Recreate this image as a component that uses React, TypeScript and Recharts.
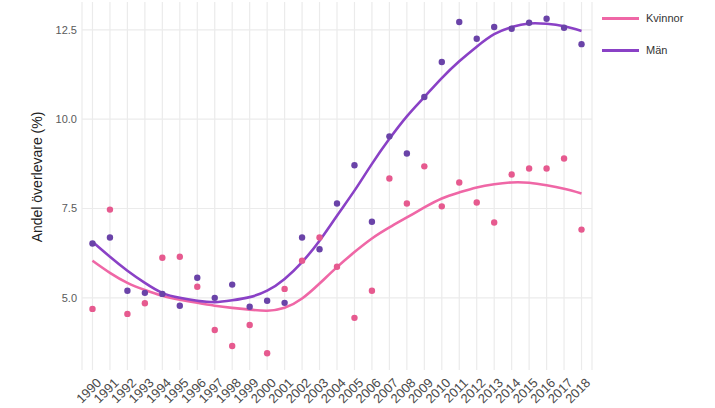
import React from 'react';
import { ComposedChart, Line, XAxis, YAxis, CartesianGrid } from 'recharts';

const years = [1990, 1991, 1992, 1993, 1994, 1995, 1996, 1997, 1998, 1999, 2000, 2001, 2002, 2003, 2004, 2005, 2006, 2007, 2008, 2009, 2010, 2011, 2012, 2013, 2014, 2015, 2016, 2017, 2018];
const kvinnor = [4.69, 7.47, 4.55, 4.85, 6.12, 6.15, 5.31, 4.10, 3.65, 4.24, 3.45, 5.25, 6.04, 6.69, 5.87, 4.44, 5.20, 8.34, 7.64, 8.68, 7.56, 8.23, 7.67, 7.11, 8.45, 8.62, 8.62, 8.90, 6.91];
const man = [6.52, 6.69, 5.20, 5.14, 5.11, 4.78, 5.56, 5.00, 5.37, 4.75, 4.92, 4.86, 6.69, 6.36, 7.64, 8.71, 7.13, 9.52, 9.04, 10.62, 11.60, 12.72, 12.25, 12.58, 12.53, 12.70, 12.81, 12.56, 12.10];
const kvinnorFit = [6.04, 5.70, 5.42, 5.22, 5.06, 4.95, 4.86, 4.78, 4.72, 4.67, 4.64, 4.72, 4.98, 5.40, 5.86, 6.28, 6.66, 6.97, 7.25, 7.53, 7.78, 7.95, 8.09, 8.18, 8.23, 8.22, 8.15, 8.05, 7.92];
const manFit = [6.57, 6.15, 5.76, 5.42, 5.14, 5.00, 4.92, 4.88, 4.93, 5.02, 5.20, 5.53, 6.00, 6.60, 7.30, 8.00, 8.75, 9.45, 10.08, 10.62, 11.15, 11.62, 12.03, 12.38, 12.58, 12.68, 12.67, 12.60, 12.47];
const yTicks = [5, 7.5, 10, 12.5];
const seriesNames = ['Kvinnor', 'Män'];

const data = years.map((y, i) => ({
  year: y,
  kv: kvinnor[i],
  man: man[i],
  kvFit: kvinnorFit[i],
  manFit: manFit[i],
}));

const PINK_LINE = '#ef67a6';
const PURPLE_LINE = '#8a41c6';
const PINK_PT = '#e65a8f';
const PURPLE_PT = '#6a43a8';
const FONT = '"Liberation Sans", Arial, sans-serif';

const XTick = (props: any) => {
  const { x, y, payload } = props;
  const ax = x + 3;
  const ay = y + 4;
  return (
    <text
      x={ax}
      y={ay}
      transform={`rotate(-45 ${ax} ${ay})`}
      textAnchor="end"
      dy="0.72em"
      fontSize={13}
      fill="#4a4a4a"
      fontFamily={FONT}
    >
      {payload.value}
    </text>
  );
};

export default function App() {
  return (
    <div style={{ position: 'absolute', left: 0, top: 0, width: 715, height: 408, background: '#fff' }}>
      <ComposedChart
        width={715}
        height={408}
        data={data}
        margin={{ top: 2, right: 123, bottom: 0, left: 0 }}
      >
        <CartesianGrid stroke="#ebebeb" strokeWidth={1.2} horizontalValues={yTicks} />
        <XAxis
          dataKey="year"
          type="number"
          domain={[1989.4, 2018.6]}
          ticks={years}
          interval={0}
          axisLine={false}
          tickLine={false}
          tickSize={0}
          tickMargin={3}
          height={38}
          tick={<XTick />}
        />
        <YAxis
          type="number"
          domain={[2.98, 13.28]}
          ticks={yTicks}
          axisLine={false}
          tickLine={false}
          tickSize={0}
          tickMargin={5}
          width={82}
          tickFormatter={(v: number) => v.toFixed(1)}
          tick={{ fontSize: 11, fill: '#5a5a5a', fontFamily: FONT }}
          label={{
            content: () => (
              <text
                x={37}
                y={177}
                transform="rotate(-90 37 177)"
                textAnchor="middle"
                dominantBaseline="central"
                fontSize={14}
                fill="#222"
                fontFamily={FONT}
              >
                Andel överlevare (%)
              </text>
            ),
          }}
        />
        <Line dataKey="kv" stroke="none" isAnimationActive={false} legendType="none"
          dot={{ r: 3.2, fill: PINK_PT, stroke: 'none' }} activeDot={false} />
        <Line dataKey="man" stroke="none" isAnimationActive={false} legendType="none"
          dot={{ r: 3.2, fill: PURPLE_PT, stroke: 'none' }} activeDot={false} />
        <Line dataKey="kvFit" type="natural" stroke={PINK_LINE} strokeWidth={2.6}
          dot={false} activeDot={false} isAnimationActive={false} />
        <Line dataKey="manFit" type="natural" stroke={PURPLE_LINE} strokeWidth={2.6}
          dot={false} activeDot={false} isAnimationActive={false} />
      </ComposedChart>
      <div style={{ position: 'absolute', left: 602, top: 2, fontFamily: FONT, fontSize: 11, color: '#333' }}>
        {[PINK_LINE, PURPLE_LINE].map((c, i) => (
          <div key={i} style={{ display: 'flex', alignItems: 'center', height: 32 }}>
            <div style={{ width: 37, height: 3, background: c, marginRight: 7 }} />
            <span>{seriesNames[i]}</span>
          </div>
        ))}
      </div>
    </div>
  );
}
